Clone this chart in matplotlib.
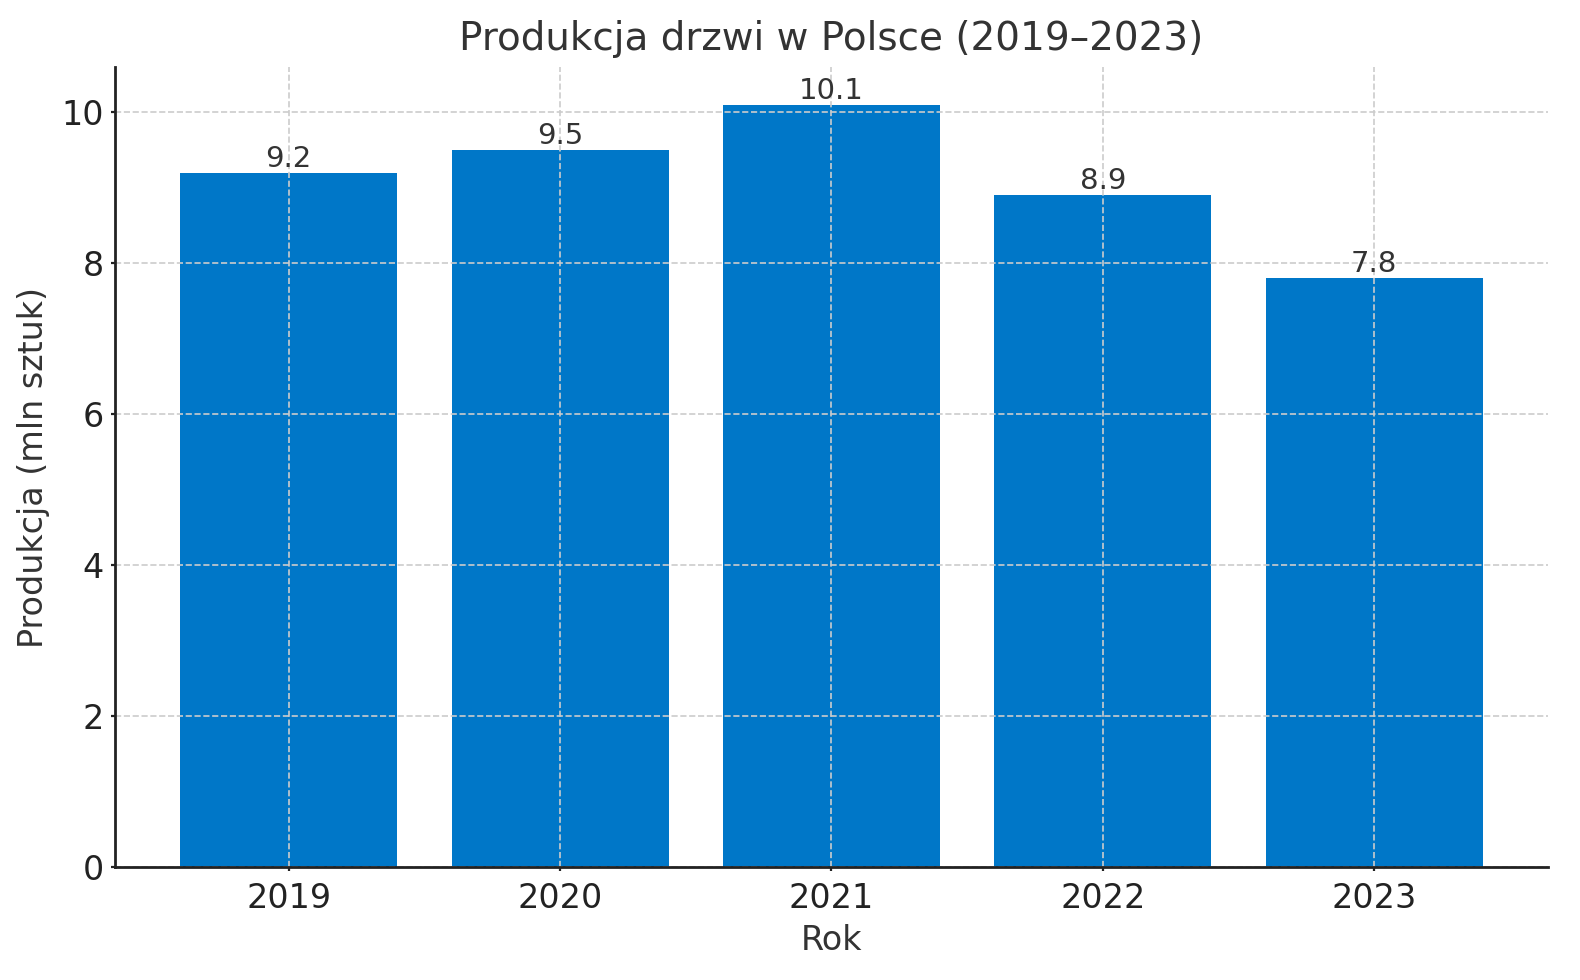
import matplotlib
matplotlib.use("Agg")
import matplotlib.pyplot as plt

years = ["2019", "2020", "2021", "2022", "2023"]
production = [9.2, 9.5, 10.1, 8.9, 7.8]

plt.rcParams['font.family'] = ['DejaVu Sans']
text_color = "#333333"

fig, ax = plt.subplots(figsize=(7.9, 4.9), dpi=200)
fig.subplots_adjust(left=0.0728, right=0.9797, bottom=0.1153, top=0.9316)

bars = ax.bar(years, production, color="#0077C8", width=0.8)
for rect, v in zip(bars, production):
    ax.text(rect.get_x() + rect.get_width() / 2, rect.get_height(), f"{v}",
            ha="center", va="bottom", fontsize=10.5, color=text_color)

ax.set_ylim(0, 10.6)
ax.set_title("Produkcja drzwi w Polsce (2019–2023)", fontsize=14, color=text_color)
ax.set_xlabel("Rok", fontsize=12, color=text_color, labelpad=3)
ax.set_ylabel("Produkcja (mln sztuk)", fontsize=12, color=text_color)
ax.tick_params(labelsize=12, colors="#222222", length=1.5, pad=2.5, width=0.8)
ax.tick_params(axis="x", pad=4)
ax.grid(True, linestyle="--", color="#cccccc", linewidth=0.6)
ax.set_axisbelow(False)
for s in ["top", "right"]:
    ax.spines[s].set_visible(False)
for s in ["left", "bottom"]:
    ax.spines[s].set_color("#222222")
    ax.spines[s].set_linewidth(1.0)
    ax.spines[s].set_zorder(5)

fig.savefig("out.png", dpi=200)
